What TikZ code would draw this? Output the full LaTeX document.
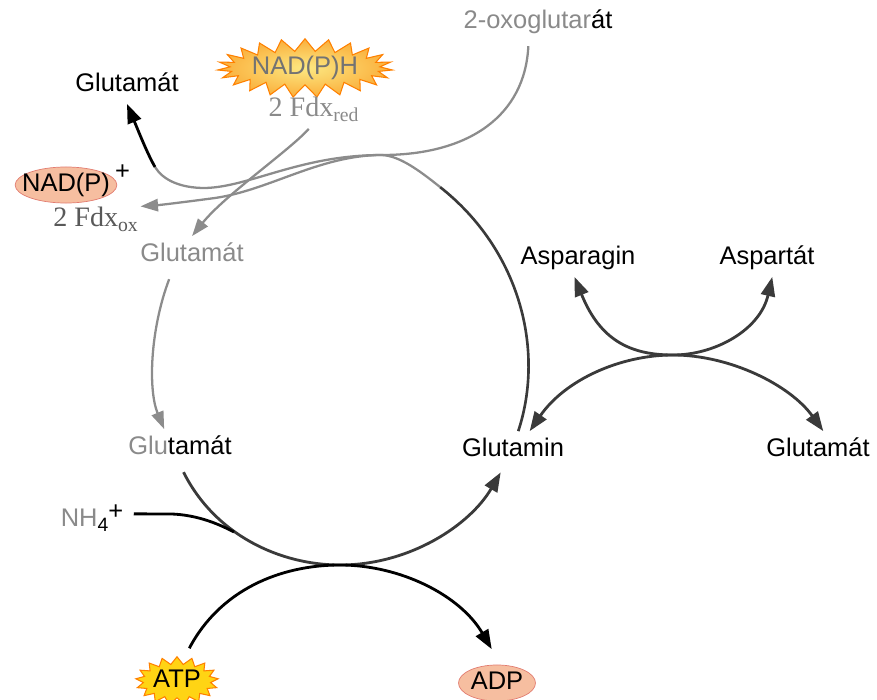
\documentclass[tikz,border=0pt]{standalone}
\usepackage{fontspec}
\setmainfont{Liberation Sans}
\newfontfamily\fdxfont{Liberation Serif}
\usetikzlibrary{shapes.geometric, shapes.symbols, arrows.meta}

\definecolor{txtgray}{HTML}{8A8A8A}
\definecolor{linegray}{HTML}{8C8C8C}
\definecolor{darkline}{HTML}{3A3A3A}
\definecolor{salmon}{RGB}{246,190,160}
\definecolor{salmonedge}{RGB}{226,124,112}
\definecolor{atpyellow}{RGB}{255,212,20}

\begin{document}
\begin{tikzpicture}[x=0.02cm, y=-0.02cm,
    lbl/.style = {font=\fontsize{14.5}{17}\selectfont, inner sep=1pt, outer sep=3pt, text height=10.5pt, text depth=3pt},
    fdx/.style = {lbl, font=\fdxfont\fontsize{16}{19}\selectfont},
    ox/.style = {lbl, ellipse, draw=salmonedge, fill=salmon, inner xsep=-4.5pt, inner ysep=0.5pt, minimum width=1.54cm, minimum height=0.7cm},
    burst/.style = {lbl, starburst, random starburst=0, draw=orange, line width=0.6pt},
    arr/.style = {line width=1.6pt, -{Triangle[length=11pt, width=8pt]}},
    dblarr/.style = {line width=1.6pt, darkline, {Triangle[length=11pt, width=8pt]}-{Triangle[length=11pt, width=8pt]}},
    garr/.style = {line width=1.3pt, linegray, -{Triangle[length=10pt, width=7pt]}},
    gline/.style = {line width=1.3pt, linegray}]
    \useasboundingbox (0,0) rectangle (877,700);

    % labels
    \node[lbl] at (538,22) (oxo) {{\color{txtgray}2-oxoglutar}át};
    \node[lbl] at (127,85) (gluA) {Glutamát};
    \node[burst, starburst points=23, starburst point height=0.25cm, inner sep=0pt, minimum width=3.5cm, minimum height=0.76cm,
          shade, inner color={rgb,255:red,252;green,232;blue,130}, outer color={rgb,255:red,250;green,175;blue,60}, text=black!55] at (305,68) (nadph) {NAD(P)H};
    \node[fdx, text=txtgray] at (314,110) (fdxred) {2 Fdx\textsubscript{red}};
    \node[ox, label={[lbl, inner sep=0pt, outer sep=0pt, xshift=-4pt, yshift=7pt]0:+}] at (66,185) (nadp) {NAD(P)};
    \node[fdx, text=black!65] at (96,220) (fdxox) {2 Fdx\textsubscript{ox}};
    \node[lbl, text=txtgray] at (192,255) (gluB) {Glutamát};
    \node[lbl] at (180,448) (gluC) {{\color{txtgray}Glu}tamát};
    \node[lbl] at (513,450) (gln) {Glutamin};
    \node[lbl] at (92,520) (nh) {{\color{txtgray}NH}\raisebox{-0.4ex}{\fontsize{11}{12}\selectfont 4}\raisebox{0.55ex}{+}};
    \node[burst, starburst points=17, starburst point height=0.15cm, inner sep=0pt, minimum width=1.65cm, minimum height=0.9cm,
          fill=atpyellow] at (177,681) (atp) {ATP};
    \node[ox] at (497,683) (adp) {ADP};
    \node[lbl] at (578,258) (asn) {Asparagin};
    \node[lbl] at (767,258) (asp) {Aspartát};
    \node[lbl] at (818,450) (gluD) {Glutamát};

    \coordinate (kissT) at (382,155);
    \coordinate (arcT) at (440,187);
    \coordinate (arcL) at (155,167);
    \coordinate (kissB) at (340,565);
    \coordinate (nhJoin) at (234,532);
    \coordinate (kissR) at (673,355);

    % GOGAT
    \draw[gline] ([xshift=-5.5pt,yshift=-3pt]oxo.south) .. controls (525,115) and (470,155) .. (kissT)
        .. controls (300,155) and (250,187) .. (205,188) .. controls (180,188) and (163,180) .. (arcL);
    \draw[arr] (arcL) .. controls (147,153) and (138,130) .. (gluA.south);
    \draw[line width=1.5pt, darkline] ([xshift=3pt]gln.north) .. controls (545,350) and (520,250) .. (arcT);
    \draw[gline] (arcT) .. controls (420,171) and (400,156) .. (kissT);
    \draw[garr] (kissT) .. controls (320,155) and (270,190) .. (215,198) .. controls (185,202) and (160,205) .. ([xshift=-3pt,yshift=-3pt]fdxox.north east);
    \draw[garr] ([xshift=-3pt]fdxred.south) .. controls (290,150) and (225,195) .. (gluB.north);

    \draw[garr] ([xshift=-13pt,yshift=-3pt]gluB.south) .. controls (150,330) and (148,390) .. ([xshift=-9pt]gluC.north);

    % GS
    \draw[arr, darkline] ([xshift=2pt,yshift=-3pt]gluC.south) .. controls (215,535) and (280,565) .. (kissB)
        .. controls (410,565) and (470,525) .. ([xshift=-7pt,yshift=-2pt]gln.south);
    \draw[line width=1.6pt] ([xshift=2pt,yshift=3.5pt]nh.east) -- (172,514) .. controls (195,515) and (215,522) .. (nhJoin);
    \draw[arr] ([xshift=7pt]atp.north) .. controls (220,590) and (280,565) .. (kissB)
        .. controls (400,565) and (460,595) .. ([xshift=-3pt,yshift=6pt]adp.north);

    % AS
    \draw[dblarr] ([xshift=-2pt]asn.south) .. controls (600,340) and (630,355) .. (kissR)
        .. controls (715,355) and (760,330) .. ([xshift=3pt]asp.south);
    \draw[dblarr] ([xshift=9.5pt]gln.north) .. controls (565,380) and (620,355) .. (kissR)
        .. controls (730,355) and (790,385) .. ([xshift=3pt]gluD.north);
\end{tikzpicture}
\end{document}
